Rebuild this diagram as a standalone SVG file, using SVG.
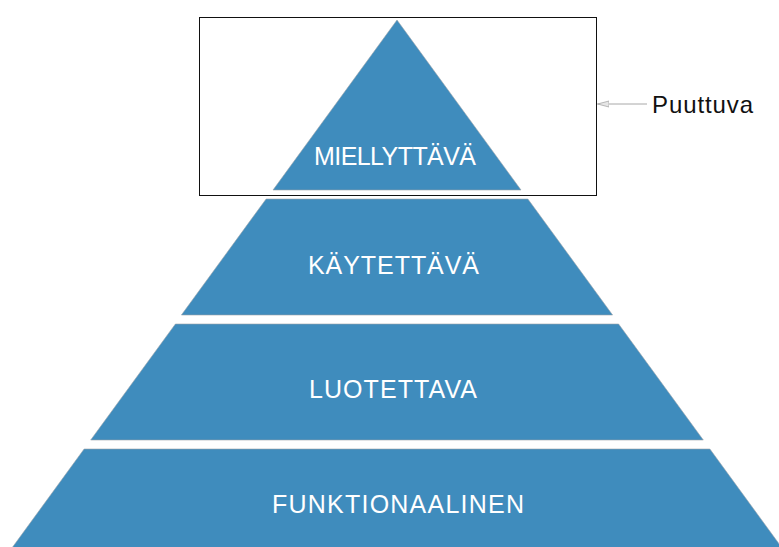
<svg xmlns="http://www.w3.org/2000/svg" width="779" height="547" viewBox="0 0 779 547">
<style>
.layer{fill:#3f8cbd;stroke:#9aa3aa;stroke-width:0.6}
.lbl{fill:#ffffff;font-family:"Liberation Sans",Arial,sans-serif;font-size:25px;text-anchor:middle}
.note{fill:#111111;font-family:"Liberation Sans",Arial,sans-serif;font-size:24px}
</style>
<defs>
<marker id="arr" viewBox="0 0 12 8" refX="11.5" refY="4" markerWidth="12" markerHeight="8" markerUnits="userSpaceOnUse" orient="auto">
<path d="M0,1 L11.5,4 L0,7 Z" fill="#e6e6e6" stroke="#a8a8a8" stroke-width="0.8"/>
</marker>
</defs>
<rect width="779" height="547" fill="#ffffff"/>
<g id="funktionaalinen">
<polygon class="layer" points="84.1,449 709.9,449 794.5,565 -0.5,565"/>
<text class="lbl" x="398" y="513" textLength="252" lengthAdjust="spacing">FUNKTIONAALINEN</text>
</g>
<g id="luotettava">
<polygon class="layer" points="175.4,324 618.6,324 703.3,440 90.7,440"/>
<text class="lbl" x="393" y="398" textLength="168" lengthAdjust="spacing">LUOTETTAVA</text>
</g>
<g id="kaytettava">
<polygon class="layer" points="266.1,199 527.9,199 612.6,315 181.4,315"/>
<text class="lbl" x="393.5" y="274" textLength="171" lengthAdjust="spacing">KÄYTETTÄVÄ</text>
</g>
<g id="miellyttava">
<polygon class="layer" points="397,20 521,190 273,190"/>
<text class="lbl" x="395" y="165" textLength="162" lengthAdjust="spacing">MIELLYTTÄVÄ</text>
</g>
<g id="puuttuva-box">
<rect x="199.5" y="17.5" width="397" height="178" fill="none" stroke="#111111" stroke-width="1"/>
</g>
<g id="connectors">
<line x1="647" y1="104" x2="597.5" y2="104" stroke="#a8a8a8" stroke-width="1" marker-end="url(#arr)"/>
</g>
<g id="puuttuva">
<text class="note" x="652" y="113" textLength="101" lengthAdjust="spacing">Puuttuva</text>
</g>
</svg>
